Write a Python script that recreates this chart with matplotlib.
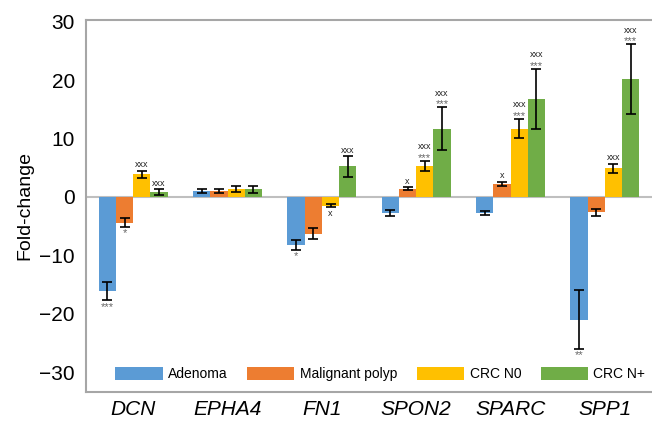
import numpy as np
import matplotlib
matplotlib.use("Agg")
import matplotlib.pyplot as plt

plt.rcParams['font.family'] = ['Liberation Sans', 'DejaVu Sans']

genes = ["DCN", "EPHA4", "FN1", "SPON2", "SPARC", "SPP1"]
groups = ["Adenoma", "Malignant polyp", "CRC N0", "CRC N+"]
colors = ["#5b9bd5", "#ed7d31", "#ffc000", "#70ad47"]

# fold-change per group for each gene
adenoma = [-16.1, 1.0, -8.2, -2.8, -2.8, -21.0]
malignant_polyp = [-4.4, 1.0, -6.3, 1.4, 2.2, -2.6]
crc_n0 = [3.9, 1.3, -1.5, 5.3, 11.7, 4.9]
crc_np = [0.8, 1.3, 5.2, 11.7, 16.8, 20.1]

adenoma_err = [1.6, 0.3, 0.9, 0.5, 0.3, 5.0]
malignant_polyp_err = [0.7, 0.3, 0.9, 0.3, 0.4, 0.6]
crc_n0_err = [0.6, 0.5, 0.3, 0.9, 1.7, 0.8]
crc_np_err = [0.5, 0.6, 1.8, 3.6, 5.1, 6.0]

# significance marks: (xxx-line, ***-line)
adenoma_sig = [("", "***"), ("", ""), ("", "*"), ("", ""), ("", ""), ("", "**")]
malignant_polyp_sig = [("", "*"), ("", ""), ("", ""), ("x", ""), ("x", ""), ("", "")]
crc_n0_sig = [("xxx", ""), ("", ""), ("x", ""), ("xxx", "***"), ("xxx", "***"), ("xxx", "")]
crc_np_sig = [("xxx", ""), ("", ""), ("xxx", ""), ("xxx", "***"), ("xxx", "***"), ("xxx", "***")]

values = [adenoma, malignant_polyp, crc_n0, crc_np]
errors = [adenoma_err, malignant_polyp_err, crc_n0_err, crc_np_err]
sigs = [adenoma_sig, malignant_polyp_sig, crc_n0_sig, crc_np_sig]

fig = plt.figure(figsize=(6.52, 4.22), dpi=100)
ax = fig.add_axes([0.132, 0.071, 0.868, 0.882])

x = np.arange(len(genes))
width = 0.183
ax.axhline(0, color="#bfbfbf", lw=1.5, zorder=1)

for i, (vals, errs, sig) in enumerate(zip(values, errors, sigs)):
    pos = x + (i - 1.5) * width
    ax.bar(pos, vals, width, color=colors[i], label=groups[i], zorder=2)
    ax.errorbar(pos, vals, yerr=errs, fmt="none", ecolor="black", elinewidth=1.2,
                capsize=3.5, capthick=1.2, zorder=3)
    for p, v, e, (xs, st) in zip(pos, vals, errs, sig):
        if v >= 0:
            base = v + e
            off = 1
            if st:
                ax.annotate(st, (p, base), xytext=(0, off - 2.5), textcoords="offset points",
                            ha="center", va="bottom", fontsize=8, color="#666666")
                off += 6
            if xs:
                ax.annotate(xs, (p, base), xytext=(0, off), textcoords="offset points",
                            ha="center", va="bottom", fontsize=6.5, color="#222222")
        else:
            base = v - e
            if xs:
                ax.annotate(xs, (p, base), xytext=(0, -1), textcoords="offset points",
                            ha="center", va="top", fontsize=6.5, color="#222222")
            if st:
                ax.annotate(st, (p, base), xytext=(0, -1), textcoords="offset points",
                            ha="center", va="top", fontsize=8, color="#666666")

ax.set_xlim(-0.5, 5.5)
ax.set_ylim(-33.4, 30.3)
ax.set_yticks([-30, -20, -10, 0, 10, 20, 30])
ax.set_xticks(x)
ax.set_xticklabels(genes, fontstyle="italic", fontsize=15)
ax.tick_params(axis="y", labelsize=15, length=0, pad=8)
ax.tick_params(axis="x", length=0, pad=6)
ax.set_ylabel("Fold-change", fontsize=14, labelpad=4)

for side in ["left", "top", "bottom"]:
    ax.spines[side].set_color("#a6a6a6")
    ax.spines[side].set_linewidth(1.5)
ax.spines["right"].set_visible(False)

ax.legend(loc="lower center", bbox_to_anchor=(0.52, -0.005), ncol=4, frameon=False,
          fontsize=10, handlelength=3.4, handleheight=1.0, columnspacing=1.4,
          handletextpad=0.4)

fig.savefig("out.png", dpi=100)
